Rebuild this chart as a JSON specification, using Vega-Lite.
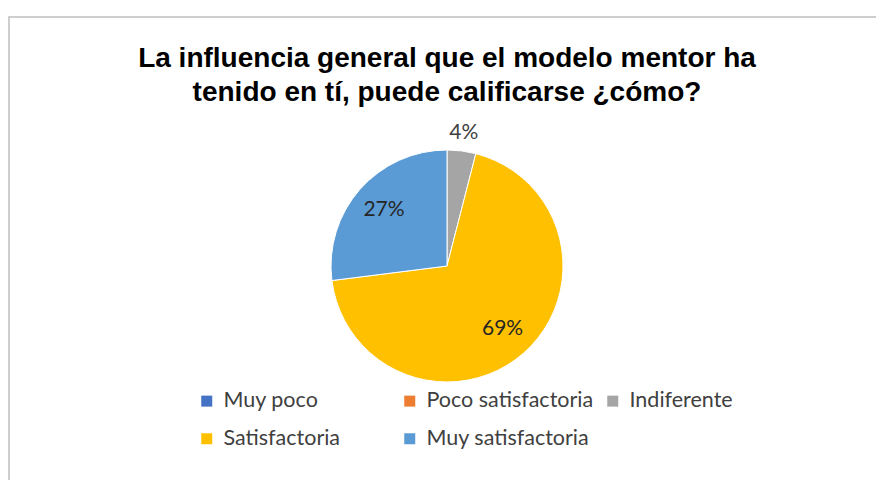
{
  "$schema": "https://vega.github.io/schema/vega-lite/v6.json",
  "width": 876,
  "height": 498,
  "autosize": {"type": "none"},
  "padding": {"left": 9, "top": 17, "right": 0, "bottom": 0},
  "background": "white",
  "view": {"stroke": "#bfbfbf", "strokeWidth": 1.5, "fill": "white"},
  "config": {
    "view": {"stroke": "#bfbfbf", "strokeWidth": 1.5},
    "font": "Lato"
  },
  "title": {
    "text": ["La influencia general que el modelo mentor ha", "tenido en tí, puede calificarse ¿cómo?"],
    "font": "Liberation Sans",
    "fontSize": 28,
    "fontWeight": "bold",
    "color": "#000000",
    "lineHeight": 34,
    "anchor": "middle",
    "frame": "group",
    "baseline": "top",
    "offset": -90
  },
  "data": {
    "values": [
      {"categoria": "Muy poco", "pct": 0, "orden": 1},
      {"categoria": "Poco satisfactoria", "pct": 0, "orden": 2},
      {"categoria": "Indiferente", "pct": 0.04, "orden": 3},
      {"categoria": "Satisfactoria", "pct": 0.69, "orden": 4},
      {"categoria": "Muy satisfactoria", "pct": 0.27, "orden": 5}
    ]
  },
  "encoding": {
    "theta": {"field": "pct", "type": "quantitative", "stack": true},
    "order": {"field": "orden", "type": "quantitative"}
  },
  "layer": [
    {
      "mark": {"type": "arc", "outerRadius": 116, "stroke": "white", "strokeWidth": 1},
      "encoding": {
        "color": {
          "field": "categoria",
          "type": "nominal",
          "sort": ["Muy poco", "Poco satisfactoria", "Indiferente", "Satisfactoria", "Muy satisfactoria"],
          "scale": {
            "domain": ["Muy poco", "Poco satisfactoria", "Indiferente", "Satisfactoria", "Muy satisfactoria"],
            "range": ["#4472C4", "#ED7D31", "#A5A5A5", "#FFC000", "#5B9BD5"]
          },
          "legend": {
            "title": null,
            "orient": "none",
            "direction": "horizontal",
            "columns": 3,
            "gridAlign": "all",
            "legendX": 187,
            "legendY": 373,
            "symbolType": "square",
            "symbolSize": 121,
            "symbolStrokeWidth": 0,
            "labelFont": "Lato",
            "labelFontSize": 21.5,
            "labelColor": "#404040",
            "labelOffset": 6,
            "labelLimit": 300,
            "columnPadding": 8,
            "rowPadding": 15,
            "padding": 0
          }
        }
      }
    },
    {
      "mark": {"type": "text", "radius": 134, "font": "Lato", "fontSize": 21, "color": "#404040"},
      "encoding": {
        "text": {"field": "pct", "type": "quantitative", "format": ".0%"},
        "opacity": {"condition": {"test": "datum.pct > 0 && datum.pct < 0.1", "value": 1}, "value": 0}
      }
    },
    {
      "mark": {"type": "text", "radius": 84, "font": "Lato", "fontSize": 21, "color": "#262626"},
      "encoding": {
        "text": {"field": "pct", "type": "quantitative", "format": ".0%"},
        "opacity": {"condition": {"test": "datum.pct >= 0.1", "value": 1}, "value": 0}
      }
    }
  ]
}
